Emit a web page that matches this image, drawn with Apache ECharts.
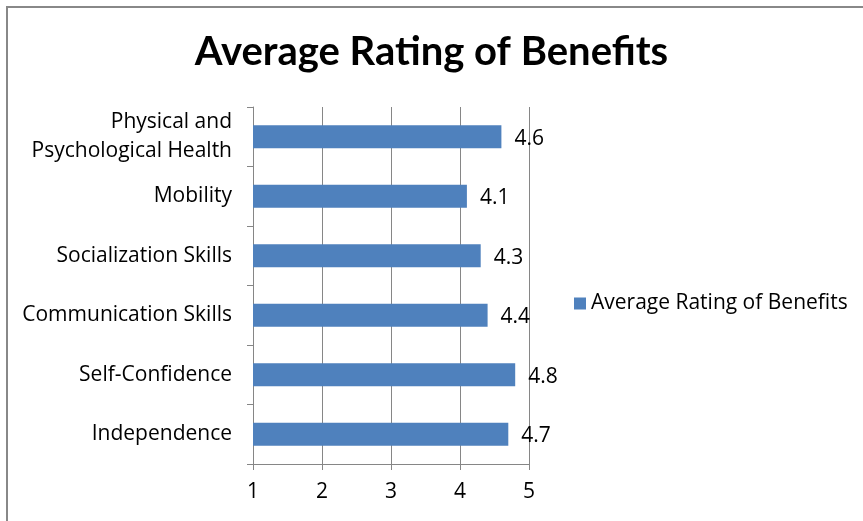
<!DOCTYPE html>
<html>
<head>
<meta charset="utf-8">
<script src="https://cdn.jsdelivr.net/npm/echarts@6/dist/echarts.min.js"></script>
<style>
html,body{margin:0;padding:0;background:#fff;}
#chart{width:863px;height:521px;}
</style>
</head>
<body>
<div id="chart"></div>
<script>
const titleText = "Average Rating of Benefits";
const seriesName = "Average Rating of Benefits";
const categories = ["Physical and\nPsychological Health", "Mobility", "Socialization Skills", "Communication Skills", "Self-Confidence", "Independence"];
const values = [4.6, 4.1, 4.3, 4.4, 4.8, 4.7];
const xTicks = [1, 2, 3, 4, 5];

const FONT = "Open Sans";
const chart = echarts.init(document.getElementById('chart'));
chart.setOption({
  backgroundColor: '#fff',
  animation: false,
  title: {
    text: titleText,
    left: 'center',
    top: 27,
    textStyle: { fontFamily: 'Lato', fontWeight: 'bold', fontSize: 40, color: '#000' }
  },
  legend: {
    data: [seriesName],
    left: 569,
    top: 288,
    orient: 'vertical',
    icon: 'rect',
    itemWidth: 12,
    itemHeight: 12,
    itemGap: 5,
    textStyle: { fontFamily: FONT, fontSize: 21, color: '#000' }
  },
  graphic: [
    { type: 'line', shape: { x1: 6, y1: 7, x2: 863, y2: 7 }, style: { stroke: '#888', lineWidth: 2 } },
    { type: 'line', shape: { x1: 7, y1: 6, x2: 7, y2: 521 }, style: { stroke: '#888', lineWidth: 2 } }
  ],
  grid: { left: 253, right: 334, top: 107, bottom: 57, containLabel: false },
  xAxis: {
    type: 'value',
    min: xTicks[0],
    max: xTicks[xTicks.length - 1],
    interval: 1,
    axisLine: { show: true, lineStyle: { color: '#868686', width: 1 } },
    axisTick: { show: true, length: 6, lineStyle: { color: '#868686' } },
    axisLabel: { fontFamily: FONT, fontSize: 21, color: '#000', margin: 18 },
    splitLine: { show: true, lineStyle: { color: '#868686', width: 1 } }
  },
  yAxis: {
    type: 'category',
    inverse: true,
    data: categories,
    axisLine: { show: true, lineStyle: { color: '#868686', width: 1 } },
    axisTick: { show: true, length: 6, lineStyle: { color: '#868686' } },
    axisLabel: { fontFamily: FONT, fontSize: 21, color: '#000', margin: 21, lineHeight: 29, align: 'right' },
    splitLine: { show: false }
  },
  series: [{
    name: seriesName,
    type: 'bar',
    data: values,
    barWidth: 23,
    itemStyle: { color: '#4F81BD' },
    label: {
      show: true,
      position: 'right',
      distance: 13,
      offset: [0, 2],
      fontFamily: FONT,
      fontSize: 21,
      color: '#000'
    }
  }]
});
</script>
</body>
</html>
